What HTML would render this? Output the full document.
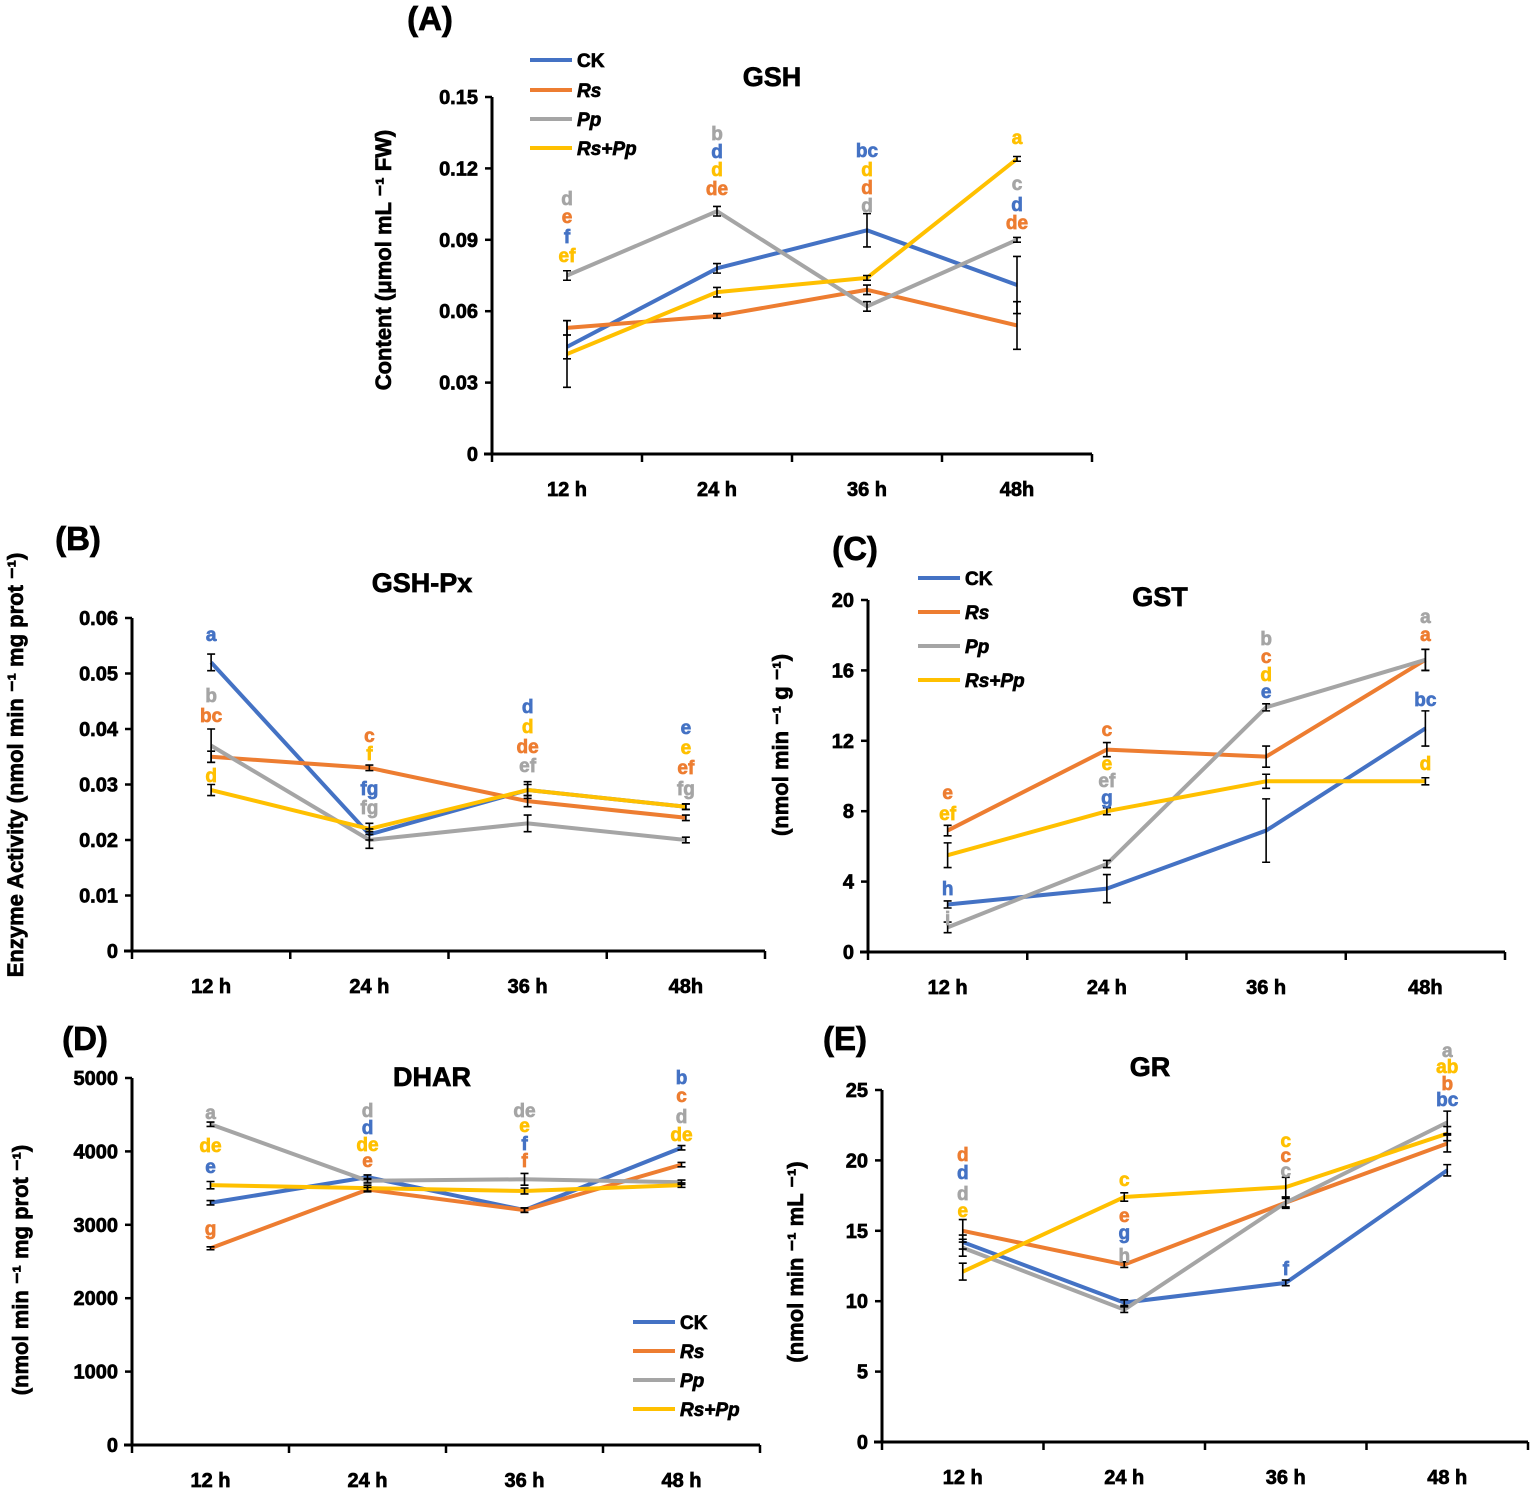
<!DOCTYPE html>
<html><head><meta charset="utf-8"><style>
body{margin:0;background:#fff}
svg{display:block;font-family:"Liberation Sans",Arial,sans-serif;font-weight:bold}
svg text{stroke-width:0.7px}
</style></head><body>
<svg id="s" width="1535" height="1492" viewBox="0 0 1535 1492"></svg>
<script>
const NS="http://www.w3.org/2000/svg";
const svg=document.getElementById('s');
const colors=["#4472C4","#ED7D31","#A5A5A5","#FFC000"];
const seriesNames=["CK","Rs","Pp","Rs+Pp"];
const catsA=["12 h","24 h","36 h","48h"];
const catsB=["12 h","24 h","36 h","48h"];
const catsD=["12 h","24 h","36 h","48 h"];
// Panel A GSH
const gshCK=[0.045,0.078,0.094,0.071], gshRs=[0.053,0.058,0.069,0.054], gshPp=[0.075,0.102,0.062,0.090], gshRsPp=[0.042,0.068,0.074,0.124];
const gshErr=[[0.005,0.002,0.007,0.012],[0.003,0.001,0.002,0.01],[0.002,0.002,0.002,0.001],[0.014,0.002,0.001,0.001]];
const gshTicks=["0","0.03","0.06","0.09","0.12","0.15"];
// Panel B GSH-Px
const pxCK=[0.052,0.021,0.029,0.026], pxRs=[0.035,0.033,0.027,0.024], pxPp=[0.037,0.020,0.023,0.020], pxRsPp=[0.029,0.022,0.029,0.026];
const pxErr=[[0.0015,0.001,0.001,0.0005],[0.001,0.0005,0.001,0.0005],[0.003,0.0015,0.0015,0.0005],[0.001,0.001,0.0015,0.0005]];
const pxTicks=["0","0.01","0.02","0.03","0.04","0.05","0.06"];
// Panel C GST
const gstCK=[2.7,3.6,6.9,12.7], gstRs=[6.9,11.5,11.1,16.6], gstPp=[1.4,5.0,13.9,16.6], gstRsPp=[5.5,8.0,9.7,9.7];
const gstErr=[[0.2,0.8,1.8,1.0],[0.3,0.4,0.6,0.6],[0.3,0.2,0.2,0.6],[0.7,0.2,0.4,0.2]];
const gstTicks=["0","4","8","12","16","20"];
// Panel D DHAR
const dhCK=[3300,3650,3200,4050], dhRs=[2680,3480,3200,3820], dhPp=[4370,3600,3620,3580], dhRsPp=[3540,3500,3460,3540];
const dhErr=[[30,30,30,30],[20,30,30,30],[30,30,80,30],[50,40,40,30]];
const dhTicks=["0","1000","2000","3000","4000","5000"];
// Panel E GR
const grCK=[14.2,9.9,11.3,19.3], grRs=[15.0,12.6,17.0,21.2], grPp=[13.8,9.4,17.0,22.7], grRsPp=[12.1,17.4,18.1,21.9];
const grErr=[[0.5,0.2,0.2,0.4],[0.8,0.2,0.3,0.6],[0.6,0.2,0.4,0.8],[0.6,0.3,0.7,0.5]];
const grTicks=["0","5","10","15","20","25"];

function el(tag,attrs,parent){const e=document.createElementNS(NS,tag);for(const k in attrs)e.setAttribute(k,attrs[k]);(parent||svg).appendChild(e);return e;}
function txt(x,y,s,size,fill,anchor,parent,extra){const t=el('text',Object.assign({x:x,y:y,'font-size':size,fill:fill||'#000',stroke:fill||'#000','text-anchor':anchor||'middle'},extra||{}),parent);t.textContent=s;return t;}

function panel(cfg){
  const g=el('g',{});
  
  
  const {x0,x1,y0,y1,max,ticks,cats,series,errs}=cfg;
  const cw=(x1-x0)/cats.length;
  const X=i=>x0+cw*(i+0.5);
  const Y=v=>y0-(v/max)*(y0-y1);
  const ya=el('line',{x1:x0,y1:y1,x2:x0,y2:y0,stroke:'#000','stroke-width':3},g);
  
  const xa=el('line',{x1:x0-8,y1:y0,x2:x1,y2:y0,stroke:'#000','stroke-width':3},g);
  
  ticks.forEach((t,i)=>{const v=max*i/(ticks.length-1);const yy=Y(v);
    el('line',{x1:x0-7,y1:yy,x2:x0,y2:yy,stroke:'#000','stroke-width':2.5},g);
    const tl=txt(x0-14,yy+7,t,20,'#000','end',g);
    });
  for(let i=0;i<=cats.length;i++){el('line',{x1:x0+cw*i,y1:y0,x2:x0+cw*i,y2:y0+8,stroke:'#000','stroke-width':2.5},g);}
  cats.forEach((c,i)=>{const tl=txt(X(i),y0+42,c,20,'#000','middle',g);
    });
  series.forEach((d,si)=>{
    const p=el('polyline',{points:d.map((v,i)=>X(i)+','+Y(v)).join(' '),fill:'none',stroke:colors[si],'stroke-width':4,'stroke-linejoin':'round'},g);
    
    
  });
  series.forEach((d,si)=>{d.forEach((v,i)=>{const e=errs[si][i];const xx=X(i);
    const eb=el('path',{d:`M${xx},${Y(v+e)}V${Y(v-e)}M${xx-4},${Y(v+e)}H${xx+4}M${xx-4},${Y(v-e)}H${xx+4}`,stroke:'#000','stroke-width':1.6,fill:'none'},g);
    });});
  cfg.letters.forEach((col,i)=>{col.forEach(L=>{const t=txt(X(i),L[2],L[0],19,colors[L[1]],'middle',g);
    });});
  return g;
}
function legend(x,ys,name){
  const g=el('g',{});
  seriesNames.forEach((n,i)=>{el('line',{x1:x,y1:ys[i],x2:x+42,y2:ys[i],stroke:colors[i],'stroke-width':4},g);
    const t=txt(x+47,ys[i]+7,n,19,'#000','start',g,i?{'font-style':'italic'}:{});
    });
}
function label(x,y,s,size,rot,name){const t=txt(x,y,s,size,'#000','middle',svg,rot?{transform:`rotate(-90 ${x} ${y})`}:{});
  return t;}

panel({name:'panel-a-gsh',x0:492,x1:1092,y0:454,y1:97,max:0.15,ticks:gshTicks,cats:catsA,
  series:[gshCK,gshRs,gshPp,gshRsPp],errs:gshErr,
  letters:[[["d",2,205],["e",1,223],["f",0,243],["ef",3,262]],[["b",2,140],["d",0,158],["d",3,176],["de",1,195]],
  [["bc",0,157],["d",3,176],["d",1,194],["d",2,212]],[["a",3,144],["c",2,190],["d",0,211],["de",1,229]]]});
panel({name:'panel-b-gsh-px',x0:132,x1:765,y0:951,y1:618,max:0.06,ticks:pxTicks,cats:catsB,
  series:[pxCK,pxRs,pxPp,pxRsPp],errs:pxErr,
  letters:[[["a",0,641],["b",2,702],["bc",1,722],["d",3,782]],[["c",1,742],["f",3,760],["fg",0,795],["fg",2,814]],
  [["d",0,713],["d",3,733],["de",1,753],["ef",2,772]],[["e",0,734],["e",3,754],["ef",1,774],["fg",2,795]]]});
panel({name:'panel-c-gst',x0:868,x1:1505,y0:952,y1:600,max:20,ticks:gstTicks,cats:catsB,
  series:[gstCK,gstRs,gstPp,gstRsPp],errs:gstErr,
  letters:[[["e",1,799],["ef",3,820],["h",0,895],["i",2,925]],[["c",1,736],["e",3,770],["ef",2,787],["g",0,804]],
  [["b",2,645],["c",1,663],["d",3,681],["e",0,698]],[["a",2,623],["a",1,641],["bc",0,706],["d",3,770]]]});
panel({name:'panel-d-dhar',x0:132,x1:760,y0:1445,y1:1078,max:5000,ticks:dhTicks,cats:catsD,
  series:[dhCK,dhRs,dhPp,dhRsPp],errs:dhErr,
  letters:[[["a",2,1119],["de",3,1152],["e",0,1173],["g",1,1235]],[["d",2,1117],["d",0,1134],["de",3,1151],["e",1,1167]],
  [["de",2,1117],["e",3,1132],["f",0,1150],["f",1,1167]],[["b",0,1084],["c",1,1102],["d",2,1123],["de",3,1141]]]});
panel({name:'panel-e-gr',x0:882,x1:1528,y0:1442,y1:1090,max:25,ticks:grTicks,cats:catsD,
  series:[grCK,grRs,grPp,grRsPp],errs:grErr,
  letters:[[["d",1,1161],["d",0,1179],["d",2,1200],["e",3,1217]],[["c",3,1186],["e",1,1222],["g",0,1239],["h",2,1262]],
  [["c",3,1147],["c",1,1162],["c",2,1177],["f",0,1275]],[["a",2,1057],["ab",3,1073],["b",1,1090],["bc",0,1106]]]});

legend(530,[60,90,119,148],'legend-a');
legend(918,[578,612,646,680],'legend-c');
legend(633,[1322,1351,1380,1409],'legend-d');

label(430,30,"(A)",33,false,'panel-label-a');
label(78,550,"(B)",33,false,'panel-label-b');
label(855,560,"(C)",33,false,'panel-label-c');
label(85,1050,"(D)",33,false,'panel-label-d');
label(845,1050,"(E)",33,false,'panel-label-e');
label(772,86,"GSH",27,false,'chart-title-gsh');
label(422,592,"GSH-Px",27,false,'chart-title-gsh-px');
label(1160,606,"GST",27,false,'chart-title-gst');
label(432,1086,"DHAR",27,false,'chart-title-dhar');
label(1150,1076,"GR",27,false,'chart-title-gr');
label(391,260,"Content (μmol mL ⁻¹ FW)",22,true,'y-axis-title-a');
label(23,765,"Enzyme Activity (nmol min ⁻¹ mg prot ⁻¹)",22,true,'y-axis-title-enzyme');
label(788,745,"(nmol min ⁻¹ g ⁻¹)",22,true,'y-axis-title-c');
label(28,1270,"(nmol min ⁻¹ mg prot ⁻¹)",22,true,'y-axis-title-d');
label(803,1262,"(nmol min ⁻¹ mL ⁻¹)",22,true,'y-axis-title-e');
</script>
</body></html>
